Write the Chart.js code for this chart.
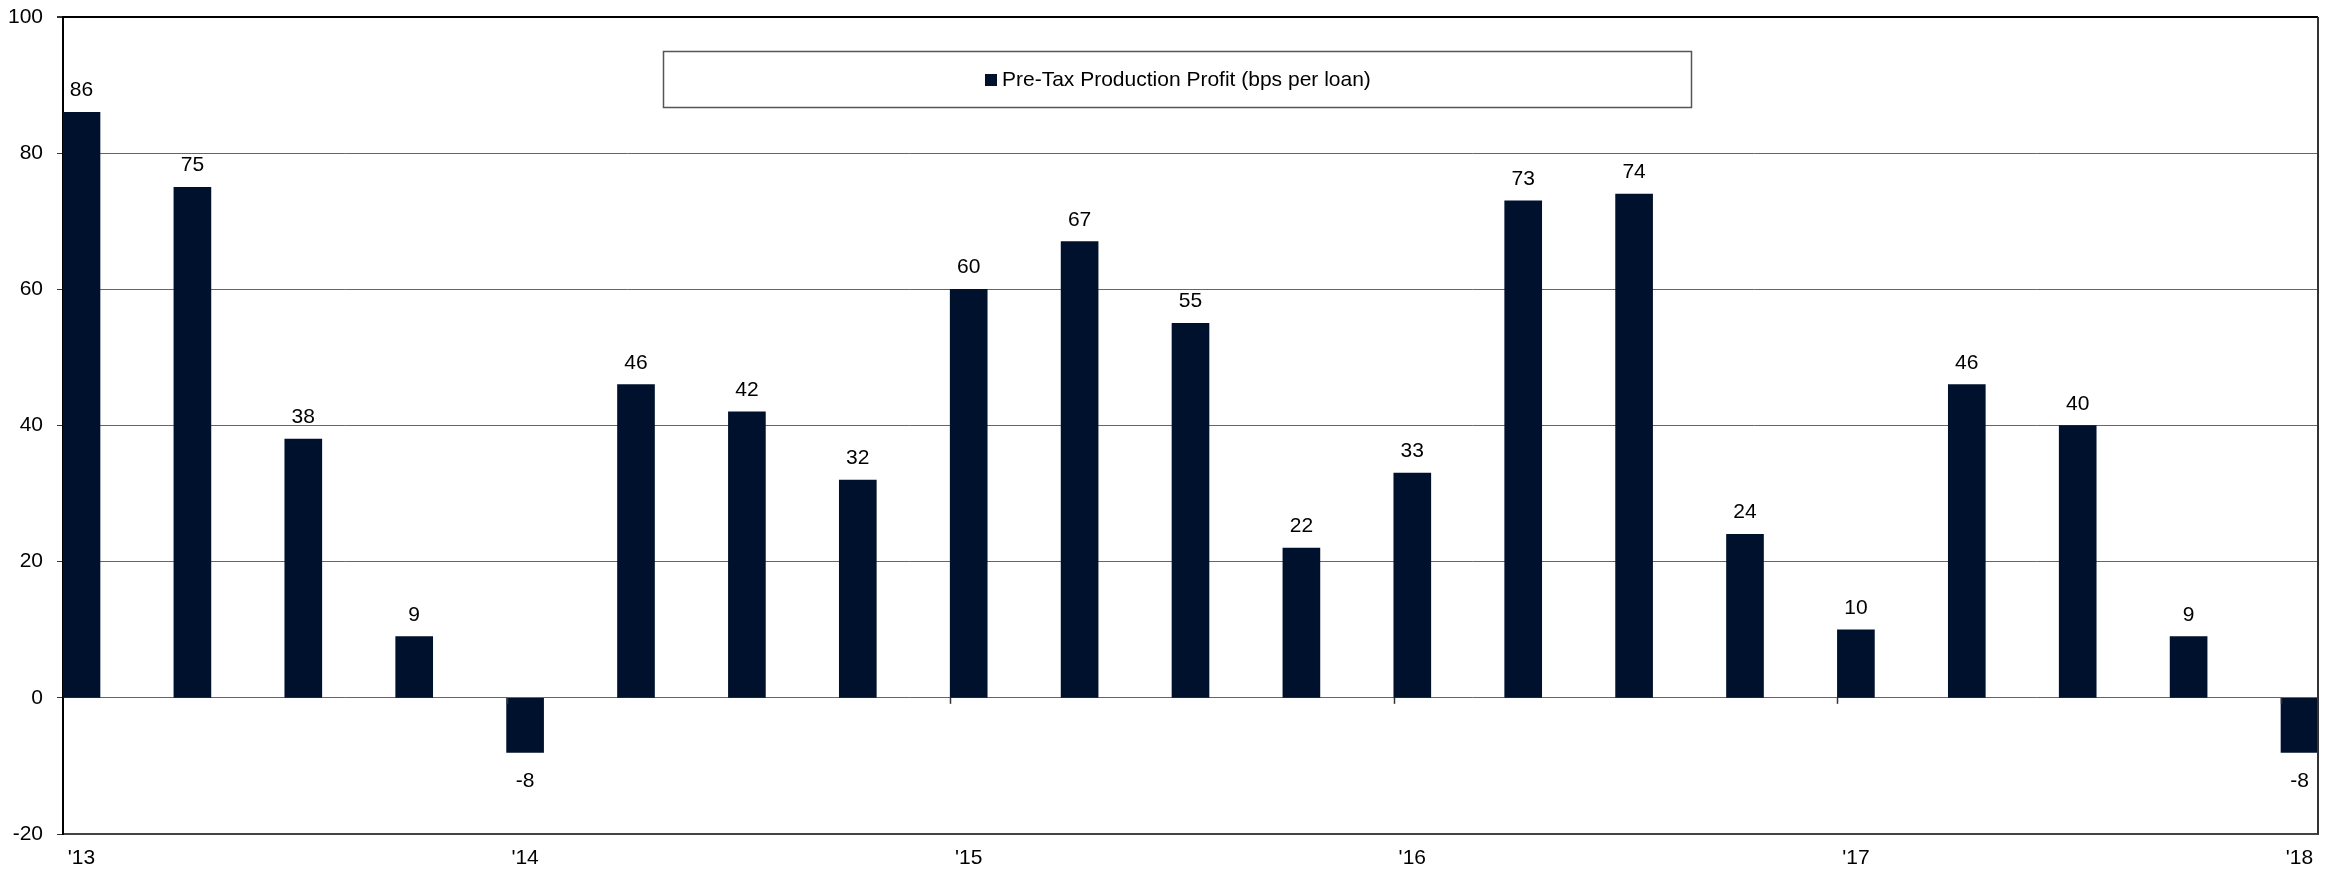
<!DOCTYPE html>
<html>
<head>
<meta charset="utf-8">
<script src="https://cdn.jsdelivr.net/npm/chart.js@4.4.1/dist/chart.umd.min.js"></script>
<style>
  html, body { margin: 0; padding: 0; background: #fff; }
  #wrap { width: 2331px; height: 873px; position: relative; }
</style>
</head>
<body>
<div id="wrap"><canvas id="profitChart"></canvas></div>
<script>
// Quarterly pre-tax production profit, Q1 2013 .. Q1 2018
const quarters = [
  "'13", "", "", "",
  "'14", "", "", "",
  "'15", "", "", "",
  "'16", "", "", "",
  "'17", "", "", "",
  "'18",
];
const profitBps = [86, 75, 38, 9, -8, 46, 42, 32, 60, 67, 55, 22, 33, 73, 74, 24, 10, 46, 40, 9, -8];
const seriesLabel = "Pre-Tax Production Profit (bps per loan)";
const yTicks = [-20, 0, 20, 40, 60, 80, 100];

const BAR = "#00112e";
const FONT = "'Liberation Sans', Arial, sans-serif";
const FSIZE = 21;
const HALF = 0.1668; // half a bar, in quarter units

// value labels above / below each bar
const valueLabels = {
  id: "valueLabels",
  afterDatasetsDraw(chart) {
    const { ctx } = chart;
    const meta = chart.getDatasetMeta(0);
    ctx.save();
    ctx.font = FSIZE + "px " + FONT;
    ctx.fillStyle = "#000";
    ctx.textAlign = "center";
    ctx.textBaseline = "alphabetic";
    meta.data.forEach((bar, i) => {
      const v = profitBps[i];
      if (v >= 0) ctx.fillText(String(v), bar.x, bar.y - 16);
      else ctx.fillText(String(v), bar.x, bar.y + 35);
    });
    ctx.restore();
  },
};

// frame, zero-line ticks and boxed legend
const frame = {
  id: "frame",
  afterDraw(chart) {
    const { ctx, chartArea: ca, scales } = chart;
    ctx.save();
    // right border
    ctx.strokeStyle = "#333";
    ctx.lineWidth = 2;
    ctx.beginPath();
    ctx.moveTo(ca.right, ca.top);
    ctx.lineTo(ca.right, ca.bottom);
    ctx.stroke();

    // small tick marks under the zero line at year boundaries
    const y0 = scales.y.getPixelForValue(0);
    ctx.strokeStyle = "#333";
    ctx.lineWidth = 1.5;
    quarters.forEach((q, i) => {
      if (!q || i === 0) return;
      const x = Math.round(scales.x.getPixelForValue(i - HALF)) + 0.5;
      ctx.beginPath();
      ctx.moveTo(x, y0);
      ctx.lineTo(x, y0 + 6);
      ctx.stroke();
    });

    // legend box
    const bx = ca.left + 600, by = ca.top + 34, bw = 1028, bh = 56;
    ctx.fillStyle = "#fff";
    ctx.fillRect(bx, by, bw, bh);
    ctx.strokeStyle = "#555";
    ctx.lineWidth = 1.5;
    ctx.strokeRect(bx + 0.5, by + 0.5, bw, bh);
    ctx.fillStyle = BAR;
    ctx.fillRect(bx + 322, by + 23, 12, 12);
    ctx.fillStyle = "#000";
    ctx.font = FSIZE + "px " + FONT;
    ctx.textAlign = "left";
    ctx.textBaseline = "middle";
    ctx.fillText(seriesLabel, bx + 339, by + 29);
    ctx.restore();
  },
};

new Chart(document.getElementById("profitChart"), {
  type: "bar",
  data: {
    datasets: [
      {
        label: seriesLabel,
        data: profitBps.map((v, i) => ({ x: i, y: v })),
        backgroundColor: BAR,
        borderWidth: 0,
        barThickness: 37,
      },
    ],
  },
  options: {
    responsive: true,
    maintainAspectRatio: false,
    animation: false,
    events: [],
    layout: { padding: { left: 0, right: 13, top: 17, bottom: 0 } },
    plugins: { legend: { display: false }, tooltip: { enabled: false } },
    scales: {
      x: {
        type: "linear",
        bounds: "data",
        offset: false,
        min: -HALF,
        max: quarters.length - 1 + HALF,
        afterBuildTicks: (s) => {
          s.ticks = quarters
            .map((q, i) => ({ value: i, label: q }))
            .filter((t) => t.label);
        },
        afterFit: (s) => {
          s.height = 39;
          s.paddingLeft = 0;
          s.paddingRight = 0;
        },
        grid: { display: false, drawTicks: false, offset: false },
        border: { display: true, color: "#444", width: 2 },
        ticks: {
          autoSkip: false,
          maxRotation: 0,
          padding: 12,
          color: "#000",
          font: { family: FONT, size: FSIZE },
          callback: (v) => quarters[v] || "",
        },
      },
      y: {
        bounds: "data",
        min: -20,
        max: 100,
        afterBuildTicks: (s) => { s.ticks = yTicks.map((v) => ({ value: v })); },
        afterFit: (s) => {
          s.width = 63;
          s.paddingTop = 0;
          s.paddingBottom = 0;
        },
        grid: {
          color: (c) => (c.tick && c.tick.value === 100 ? "#000" : "#666"),
          lineWidth: (c) => (c.tick && c.tick.value === 100 ? 2 : 1),
          tickLength: 6,
          tickColor: "#333",
        },
        border: { display: true, color: "#000", width: 2 },
        ticks: {
          padding: 14,
          color: "#000",
          font: { family: FONT, size: FSIZE },
        },
      },
    },
  },
  plugins: [valueLabels, frame],
});
</script>
</body>
</html>
